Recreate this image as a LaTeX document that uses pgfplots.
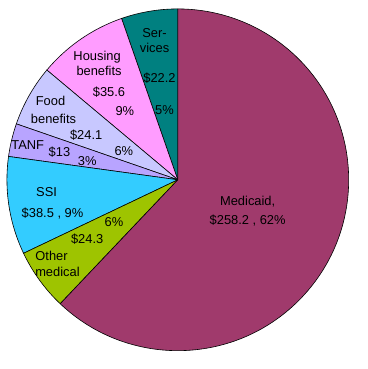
\documentclass[border=0pt]{standalone}
\usepackage{pgfplots}
\pgfplotsset{compat=1.18}
\usepackage{fontspec}
\setmainfont{Liberation Sans}
\definecolor{medicaid}{HTML}{A03A6C}
\definecolor{othermed}{HTML}{9EC400}
\definecolor{ssi}{HTML}{33CCFF}
\definecolor{tanf}{HTML}{B8A4FF}
\definecolor{food}{HTML}{C8C8FF}
\definecolor{housing}{HTML}{FF9CFF}
\definecolor{services}{HTML}{008080}
\tikzset{lbl/.style={inner sep=0pt,text height=9.3pt,text depth=0pt,font=\fontsize{13}{15}\selectfont,anchor=center}}
\begin{document}
\begin{tikzpicture}
\begin{axis}[x=1pt,y=1pt,xmin=0,xmax=361,ymin=0,ymax=369,hide axis,clip=false]
\path (axis cs:0,0) rectangle (axis cs:361,369);
\def\total{415.9}
\def\cx{179.5}\def\cy{187.5}\def\R{172.5}
\gdef\curang{90}
\foreach \v/\c in {22.2/services,35.6/housing,24.1/food,13/tanf,38.5/ssi,24.3/othermed,258.2/medicaid}{
  \pgfmathsetmacro\endang{\curang+(\v/\total)*360}
  \edef\temp{\noexpand\filldraw[fill=\c,draw=black,line width=0.6pt] (axis cs:\cx,\cy) -- ++(\curang:\R pt) arc[start angle=\curang,end angle=\endang,radius=\R pt] -- cycle;}
  \temp
  \xdef\curang{\endang}
}
% Services
\node[lbl] at (axis cs:156,336) {Ser-};
\node[lbl] at (axis cs:156,321) {vices};
\node[lbl] at (axis cs:161,290) {\$22.2};
\node[lbl] at (axis cs:166,258) {5\%};
% Housing
\node[lbl] at (axis cs:98,313) {Housing};
\node[lbl] at (axis cs:100,297) {benefits};
\node[lbl] at (axis cs:110,276) {\$35.6};
\node[lbl] at (axis cs:126,257) {9\%};
% Food
\node[lbl] at (axis cs:51,267) {Food};
\node[lbl] at (axis cs:54,249) {benefits};
\node[lbl] at (axis cs:87,233) {\$24.1};
\node[lbl] at (axis cs:125,217) {6\%};
% TANF
\node[lbl] at (axis cs:28,223) {TANF};
\node[lbl] at (axis cs:60,216) {\$13};
\node[lbl] at (axis cs:88,207) {3\%};
% SSI
\node[lbl] at (axis cs:47,175) {SSI};
\node[lbl] at (axis cs:53,154) {\$38.5 , 9\%};
% Other medical
\node[lbl] at (axis cs:115,145) {6\%};
\node[lbl] at (axis cs:88,128) {\$24.3};
\node[lbl] at (axis cs:52,111) {Other};
\node[lbl] at (axis cs:58,95) {medical};
% Medicaid
\node[lbl] at (axis cs:250,166) {Medicaid,};
\node[lbl] at (axis cs:250,147) {\$258.2 , 62\%};
\end{axis}
\end{tikzpicture}
\end{document}
